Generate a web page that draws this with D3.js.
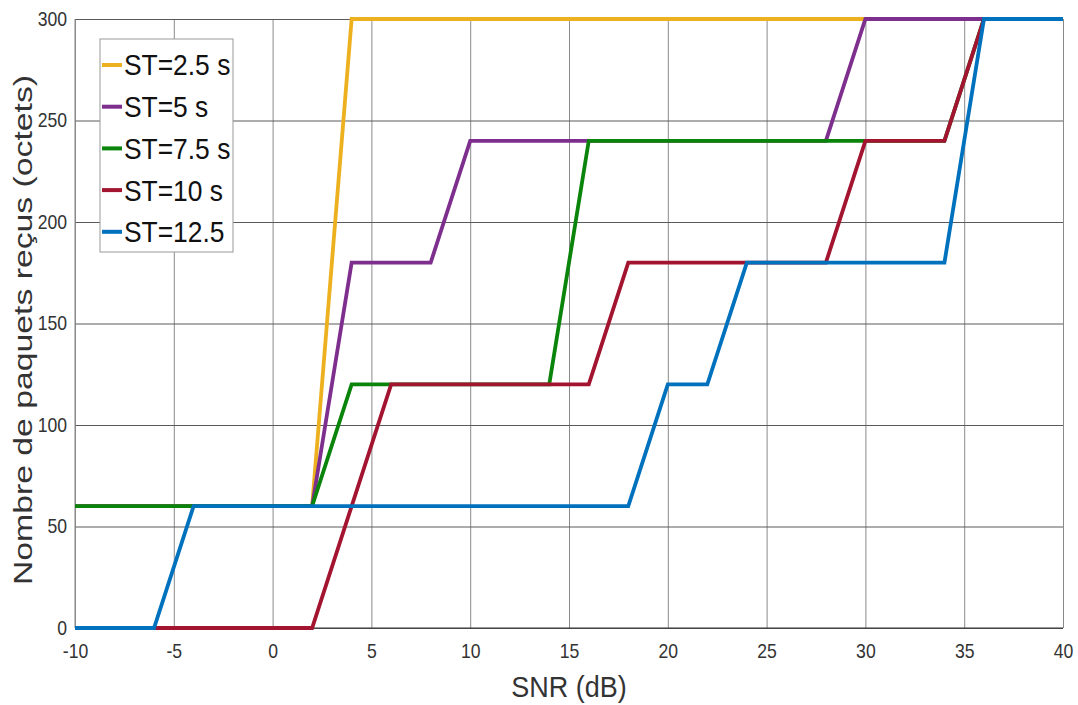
<!DOCTYPE html>
<html>
<head>
<meta charset="utf-8">
<script src="https://cdn.jsdelivr.net/npm/d3@7"></script>
<style>
  body { margin: 0; background: #fff; }
  svg { font-family: "Liberation Sans", Arial, sans-serif; }
</style>
</head>
<body>
<div id="chart"></div>
<script>
// SNR (dB) values and received packets for each sending time
const names = ["ST=2.5 s", "ST=5 s", "ST=7.5 s", "ST=10 s", "ST=12.5"]
const colors = ["#EDB120", "#7E2F8E", "#0A840A", "#A2142F", "#0072BD"]

const snr25 = [-10, 2, 4, 40]
const val25 = [60, 60, 300, 300]

const snr5 = [-10, 2, 4, 8, 10, 28, 30, 40]
const val5 = [60, 60, 180, 180, 240, 240, 300, 300]

const snr75 = [-10, 2, 4, 14, 16, 30, 34, 36, 40]
const val75 = [60, 60, 120, 120, 240, 240, 240, 300, 300]

const snr10 = [-10, 2, 6, 16, 18, 28, 30, 34, 36, 40]
const val10 = [0, 0, 120, 120, 180, 180, 240, 240, 300, 300]

const snr125 = [-10, -6, -4, 18, 20, 22, 24, 34, 36, 40]
const val125 = [0, 0, 60, 60, 120, 120, 180, 180, 300, 300]

const xTicks = [-10, -5, 0, 5, 10, 15, 20, 25, 30, 35, 40]
const yTicks = [0, 50, 100, 150, 200, 250, 300]

const series = [
  [snr25, val25], [snr5, val5], [snr75, val75], [snr10, val10], [snr125, val125]
].map(([xs, ys], i) => ({
  name: names[i],
  color: colors[i],
  points: xs.map((x, j) => [x, ys[j]])
}))

const width = 1078, height = 705
const plotLeft = 75, plotRight = 1063, plotTop = 19, plotBottom = 628

const svg = d3.select("#chart").append("svg")
  .attr("width", width)
  .attr("height", height)

const x = d3.scaleLinear().domain([-10, 40]).range([plotLeft, plotRight])
const y = d3.scaleLinear().domain([0, 300]).range([plotBottom, plotTop])

// grid
svg.append("g")
  .attr("transform", "translate(0," + plotBottom + ")")
  .call(d3.axisBottom(x).tickValues(xTicks).tickSize(-(plotBottom - plotTop)).tickFormat(""))
  .call(g => g.select(".domain").remove())
  .call(g => g.selectAll("line").attr("stroke", "#8a8a8a").attr("stroke-width", 1))

svg.append("g")
  .attr("transform", "translate(" + plotLeft + ",0)")
  .call(d3.axisLeft(y).tickValues(yTicks).tickSize(-(plotRight - plotLeft)).tickFormat(""))
  .call(g => g.select(".domain").remove())
  .call(g => g.selectAll("line").attr("stroke", "#5a5a5a").attr("stroke-width", 1))

// axis lines
svg.append("line").attr("x1", plotLeft).attr("x2", plotRight).attr("y1", plotBottom).attr("y2", plotBottom)
  .attr("stroke", "#333").attr("stroke-width", 1.2)
svg.append("line").attr("x1", plotLeft).attr("x2", plotLeft).attr("y1", plotTop).attr("y2", plotBottom)
  .attr("stroke", "#888").attr("stroke-width", 1)

// tick labels
const xAxis = svg.append("g")
  .attr("transform", "translate(0," + plotBottom + ")")
  .call(d3.axisBottom(x).tickValues(xTicks).tickSize(0).tickPadding(16).tickFormat(d => String(d)))
xAxis.select(".domain").remove()
xAxis.selectAll("text")
  .attr("font-size", 20)
  .attr("fill", "#333")
  .attr("font-family", "Liberation Sans, Arial, sans-serif")
  .attr("transform", "scale(0.88,1)")

const yAxis = svg.append("g")
  .attr("transform", "translate(" + plotLeft + ",0)")
  .call(d3.axisLeft(y).tickValues(yTicks).tickSize(0).tickPadding(9).tickFormat(d => String(d)))
yAxis.select(".domain").remove()
yAxis.selectAll("text")
  .attr("font-size", 20)
  .attr("fill", "#333")
  .attr("font-family", "Liberation Sans, Arial, sans-serif")
  .attr("transform", "scale(0.88,1)")

// lines
const line = d3.line().x(d => x(d[0])).y(d => y(d[1]))

svg.append("g").selectAll("path")
  .data(series).enter()
  .append("path")
    .attr("d", d => line(d.points))
    .attr("fill", "none")
    .attr("stroke", d => d.color)
    .attr("stroke-width", 3.8)
    .attr("stroke-linejoin", "miter")

// axis titles
svg.append("text")
  .text("SNR (dB)")
  .attr("text-anchor", "middle")
  .attr("font-size", 30)
  .attr("fill", "#333")
  .attr("transform", "translate(" + (plotLeft + plotRight) / 2 + ",697) scale(0.9,1)")

svg.append("text")
  .text("Nombre de paquets reçus (octets)")
  .attr("text-anchor", "middle")
  .attr("font-size", 26)
  .attr("fill", "#333")
  .attr("textLength", 510)
  .attr("lengthAdjust", "spacingAndGlyphs")
  .attr("transform", "translate(32,330) rotate(-90)")

// legend
const legend = svg.append("g")
legend.append("rect")
  .attr("x", 100).attr("y", 39)
  .attr("width", 133).attr("height", 213)
  .attr("fill", "#fff")
  .attr("stroke", "#999")
  .attr("stroke-width", 1)

const rowY = i => 65 + i * 41.7
const items = legend.selectAll("g.item")
  .data(series).enter()
  .append("g")
    .attr("class", "item")
    .attr("transform", (d, i) => "translate(0," + rowY(i) + ")")

items.append("line")
  .attr("x1", 102).attr("x2", 122)
  .attr("y1", 0).attr("y2", 0)
  .attr("stroke", d => d.color)
  .attr("stroke-width", 4)

items.append("text")
  .text(d => d.name)
  .attr("font-size", 29)
  .attr("fill", "#111")
  .attr("dy", "0.36em")
  .attr("transform", "translate(124,0) scale(0.91,1)")
</script>
</body>
</html>
